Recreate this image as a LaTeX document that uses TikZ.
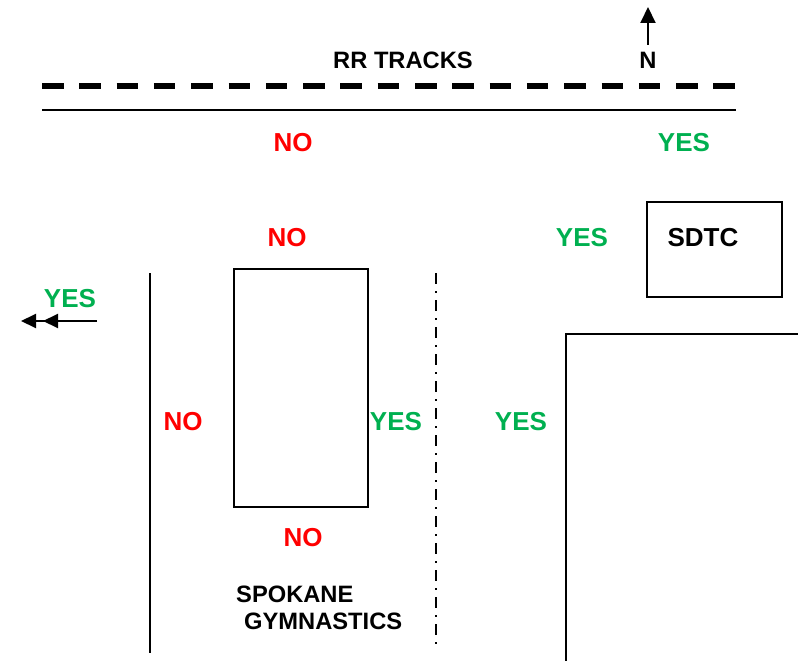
\documentclass[tikz,border=0pt]{standalone}
\usepackage{fontspec}
\setmainfont{Liberation Sans}
\usetikzlibrary{arrows.meta}
\definecolor{grn}{RGB}{0,176,80}
\begin{document}
\begin{tikzpicture}[x=1pt,y=-1pt,
  lbl/.style={font=\fontsize{23.7}{27}\selectfont\bfseries, inner sep=0pt, text height=17pt, text depth=0pt},
  big/.style={font=\fontsize{26}{30}\selectfont\bfseries, inner sep=0pt, text height=18.6pt, text depth=0pt},
  no/.style={big,text=red},
  yes/.style={big,text=grn},
  ln/.style={line width=2pt},
  box/.style={ln,draw,inner sep=0pt}]
\useasboundingbox (0,0) rectangle (798,661);
% labels
\node[lbl] (rr) at (403,60) {RR TRACKS};
\node[lbl] (n) at (648,60) {N};
\node[no] (no1) at (293,142) {NO};
\node[yes] (yes1) at (684,142) {YES};
\node[no] (no2) at (287,237) {NO};
\node[yes] (yes2) at (582,237) {YES};
\node[big] (sdtc) at (703,237) {SDTC};
\node[yes] (yes3) at (70,298) {YES};
\node[no] (no3) at (183,421) {NO};
\node[yes] (yes4) at (396,421) {YES};
\node[yes] (yes5) at (521,421) {YES};
\node[no] (no4) at (303,537) {NO};
\node[lbl,anchor=west] (spo) at (236,593.5) {SPOKANE};
\node[lbl,anchor=west] (gym) at (244,620.5) {GYMNASTICS};
% boxes
\node[box,minimum width=134pt,minimum height=238pt] (bld) at (301,388) {};
\node[box,minimum width=135pt,minimum height=95pt] (sbox) at (714.5,249.5) {};
% tracks
\coordinate (tl) at (42,86); \coordinate (tr) at (736,86);
\draw[line width=6pt, dash pattern=on 21.5pt off 15.8pt] (tl) -- (tr);
\coordinate (sl) at (42,110); \coordinate (sr) at (736,110);
\draw[ln] (sl) -- (sr);
% north arrow
\coordinate (na) at (648,45); \coordinate (nb) at (648,7);
\draw[ln,-{Triangle[length=16pt,width=15pt]}] (na) -- (nb);
% west arrow
\coordinate (wa) at (97,321); \coordinate (wb) at (21,321);
\draw[ln,-{Triangle[length=15pt,width=14pt,sep=7pt] Triangle[length=15pt,width=14pt]}] (wa) -- (wb);
% left street line
\coordinate (la) at (150,273); \coordinate (lb) at (150,653);
\draw[ln] (la) -- (lb);
% dash-dot line
\coordinate (da) at (436,273); \coordinate (db) at (436,648);
\draw[ln, dash pattern=on 11pt off 7pt on 2pt off 7pt] (da) -- (db);
% big building
\coordinate (ba) at (566,663); \coordinate (bb) at (566,334); \coordinate (bc) at (800,334);
\draw[ln] (ba) -- (bb) -- (bc);
\end{tikzpicture}
\end{document}
